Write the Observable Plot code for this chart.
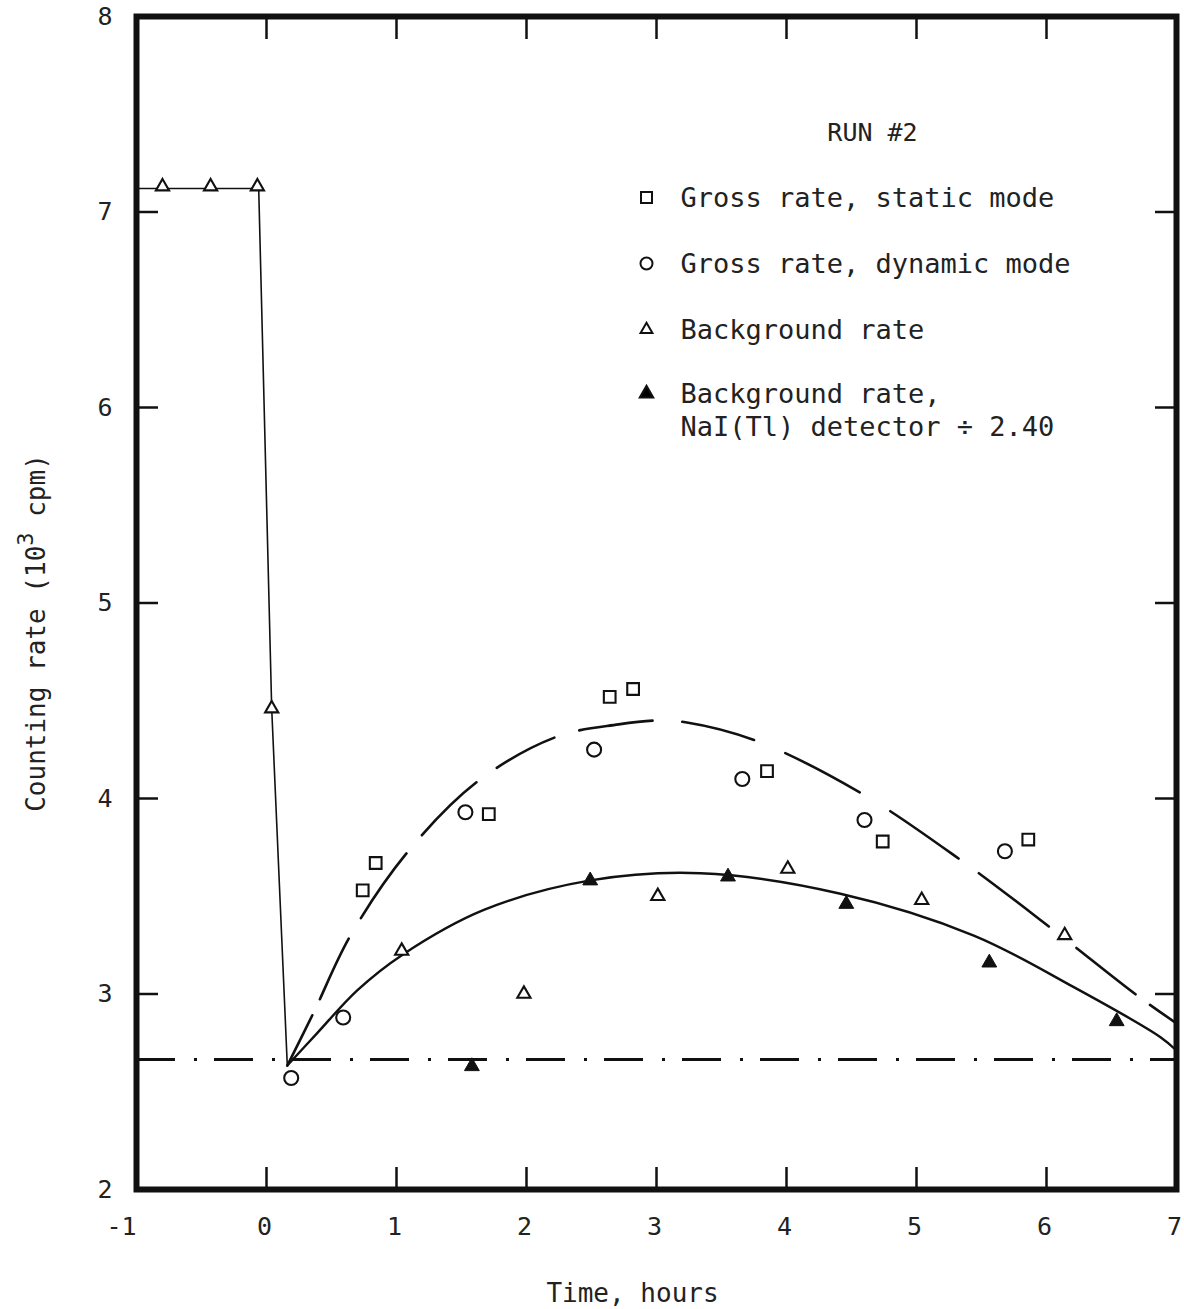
<!DOCTYPE html>
<html>
<head>
<meta charset="utf-8">
<script src="https://cdn.jsdelivr.net/npm/d3@7"></script>
<script src="https://cdn.jsdelivr.net/npm/@observablehq/plot@0.6"></script>
<style>
  html, body { margin: 0; padding: 0; background: #fff; }
  #chart svg { display: block; }
</style>
</head>
<body>
<div id="chart"></div>
<script>
// Run #2: counting rates (10^3 cpm) against time (hours)

// Measured points, [time, rate]
const staticGross = [[0.74,3.53],[0.84,3.67],[1.71,3.92],[2.64,4.52],[2.82,4.56],[3.85,4.14],[4.74,3.78],[5.86,3.79]];
const dynamicGross = [[0.19,2.57],[0.59,2.88],[1.53,3.93],[2.52,4.25],[3.66,4.10],[4.60,3.89],[5.68,3.73]];
const background = [[-0.80,7.13],[-0.43,7.13],[-0.07,7.13],[0.04,4.46],[1.04,3.22],[1.98,3.00],[3.01,3.50],[4.01,3.64],[5.04,3.48],[6.14,3.30]];
const backgroundNaI = [[1.58,2.63],[2.49,3.58],[3.55,3.60],[4.46,3.46],[5.56,3.16],[6.54,2.86]];

// Background trace before and through the drop
const backgroundTrace = [[-1,7.12],[-0.06,7.12],[0.04,4.46],[0.16,2.634]];

// Hand-drawn fitted curves
const grossFit = [[0.16,2.634],[0.364,2.907],[0.646,3.299],[1.095,3.734],[1.633,4.092],[2.236,4.317],[2.708,4.379],[2.992,4.399],[3.223,4.39],[3.775,4.293],[4.582,4.024],[5.338,3.686],[6.031,3.339],[6.698,2.992],[7.0,2.85]];
const backgroundFit = [[0.16,2.634],[0.39,2.80],[0.70,3.02],[1.044,3.20],[1.672,3.43],[2.492,3.581],[3.338,3.618],[4.415,3.513],[5.441,3.299],[6.21,3.035],[6.877,2.779],[7.0,2.711]];

// Pre-run baseline level
const baselineRate = 2.665;

// Axes
const xTickLabels = [-1, 0, 1, 2, 3, 4, 5, 6, 7];
const xTickMarks = [0, 1, 2, 3, 4, 5, 6];
const yTickLabels = [2, 3, 4, 5, 6, 7, 8];
const yTickMarks = [3, 4, 5, 6, 7];
const xTitle = "Time, hours";

// Legend
const legendTitle = "RUN #2";
const legendItems = [
  {symbol: "square", fill: "white", r: 6.2, lines: ["Gross rate, static mode"]},
  {symbol: "circle", fill: "white", r: 6.0, lines: ["Gross rate, dynamic mode"]},
  {symbol: "triangle", fill: "white", r: 4.4, lines: ["Background rate"]},
  {symbol: "triangle", fill: "black", r: 5.0, lines: ["Background rate,", "NaI(Tl) detector \u00f7 2.40"]}
];

const ink = "#111";
const textInk = "#222";

// uneven, pen-drawn dash lengths along the gross-rate curve
const grossDash = "56 18 67 24 79 24 76 25 65 26 74 30 74 34 84 36 83 25 88 35 75 18 40 200";

// legend layout, offsets from the frame's top-left corner
const legendSymbolDx = 510, legendTextDx = 544;
const legendRowDy = [181, 247, 313, 377];
const legendLineGap = 33;

const legendMarks = legendItems.flatMap((item, i) => [
  Plot.dot([item], {frameAnchor: "top-left", dx: legendSymbolDx, dy: legendRowDy[i],
    symbol: item.symbol, r: item.r, fill: item.fill, stroke: ink, strokeWidth: 2}),
  ...item.lines.map((line, j) => Plot.text([line], {frameAnchor: "top-left", text: d => d,
    dx: legendTextDx, dy: legendRowDy[i] + 9 + j * legendLineGap,
    textAnchor: "start", lineAnchor: "bottom", fontSize: 27, fill: textInk}))
]);

const xLabelFormat = d => d < 0 ? "-" + (-d) : String(d);

const chart = Plot.plot({
  width: 1184,
  height: 1309,
  marginTop: 16,
  marginLeft: 136,
  marginRight: 8,
  marginBottom: 120,
  style: {fontFamily: "'DejaVu Sans Mono', monospace", fontSize: "25px", background: "white", color: textInk},
  x: {domain: [-1, 7], label: null},
  y: {domain: [2, 8], label: null},
  marks: [
    // baseline (dash-dot)
    Plot.ruleY([baselineRate], {stroke: ink, strokeWidth: 2.8, strokeDasharray: "39 19 3 17"}),
    // background trace
    Plot.line(backgroundTrace, {stroke: ink, strokeWidth: 1.6}),
    // fitted curves
    Plot.line(grossFit, {curve: "catmull-rom", stroke: ink, strokeWidth: 2.6, strokeDasharray: grossDash}),
    Plot.line(backgroundFit, {curve: "catmull-rom", stroke: ink, strokeWidth: 2.4}),
    // measured points
    Plot.dot(background, {symbol: "triangle", r: 4.9, fill: "white", stroke: ink, strokeWidth: 2.1}),
    Plot.dot(backgroundNaI, {symbol: "triangle", r: 5.5, fill: ink, stroke: ink, strokeWidth: 1}),
    Plot.dot(staticGross, {symbol: "square", r: 6.6, fill: "white", stroke: ink, strokeWidth: 2.1}),
    Plot.dot(dynamicGross, {symbol: "circle", r: 7, fill: "white", stroke: ink, strokeWidth: 2.1}),
    // inward tick marks on all four sides
    Plot.axisX(xTickMarks, {anchor: "bottom", tickSize: -22, tickFormat: () => "", strokeWidth: 2.5, stroke: ink}),
    Plot.axisX(xTickMarks, {anchor: "top", tickSize: -22, tickFormat: () => "", strokeWidth: 2.5, stroke: ink}),
    Plot.axisY(yTickMarks, {anchor: "left", tickSize: -22, tickFormat: () => "", strokeWidth: 2.5, stroke: ink}),
    Plot.axisY(yTickMarks, {anchor: "right", tickSize: -22, tickFormat: () => "", strokeWidth: 2.5, stroke: ink}),
    // tick labels (the negative one is set flush against its tick)
    Plot.axisX(xTickLabels.filter(d => d >= 0), {anchor: "bottom", tickSize: 0, tickPadding: 28, fontSize: 25, fill: textInk,
      dx: -2, tickFormat: xLabelFormat}),
    Plot.axisX(xTickLabels.filter(d => d < 0), {anchor: "bottom", tickSize: 0, tickPadding: 28, fontSize: 25, fill: textInk,
      textAnchor: "end", dx: 0, tickFormat: xLabelFormat}),
    Plot.axisY(yTickLabels, {anchor: "left", tickSize: 0, tickPadding: 24, fontSize: 25, fill: textInk,
      tickFormat: d => String(d)}),
    // x-axis title
    Plot.text([xTitle], {frameAnchor: "bottom", text: d => d, dx: -24, dy: 112, lineAnchor: "bottom", fontSize: 26, fill: textInk}),
    // legend
    Plot.text([legendTitle], {frameAnchor: "top-left", text: d => d, dx: 736, dy: 124, textAnchor: "middle", lineAnchor: "bottom", fontSize: 25, fill: textInk}),
    ...legendMarks,
    // heavy frame
    Plot.frame({stroke: ink, strokeWidth: 6})
  ]
});

document.getElementById("chart").append(chart);

// y-axis title with a raised exponent
const yTitle = d3.select(chart).append("text")
  .attr("transform", "translate(45,633) rotate(-90)")
  .attr("text-anchor", "middle")
  .attr("font-family", "'DejaVu Sans Mono', monospace")
  .attr("font-size", 26)
  .attr("fill", textInk);
yTitle.append("tspan").text("Counting rate (10");
yTitle.append("tspan").attr("dy", -12).attr("font-size", 22).text("3");
yTitle.append("tspan").attr("dy", 12).text(" cpm)");
</script>
</body>
</html>
